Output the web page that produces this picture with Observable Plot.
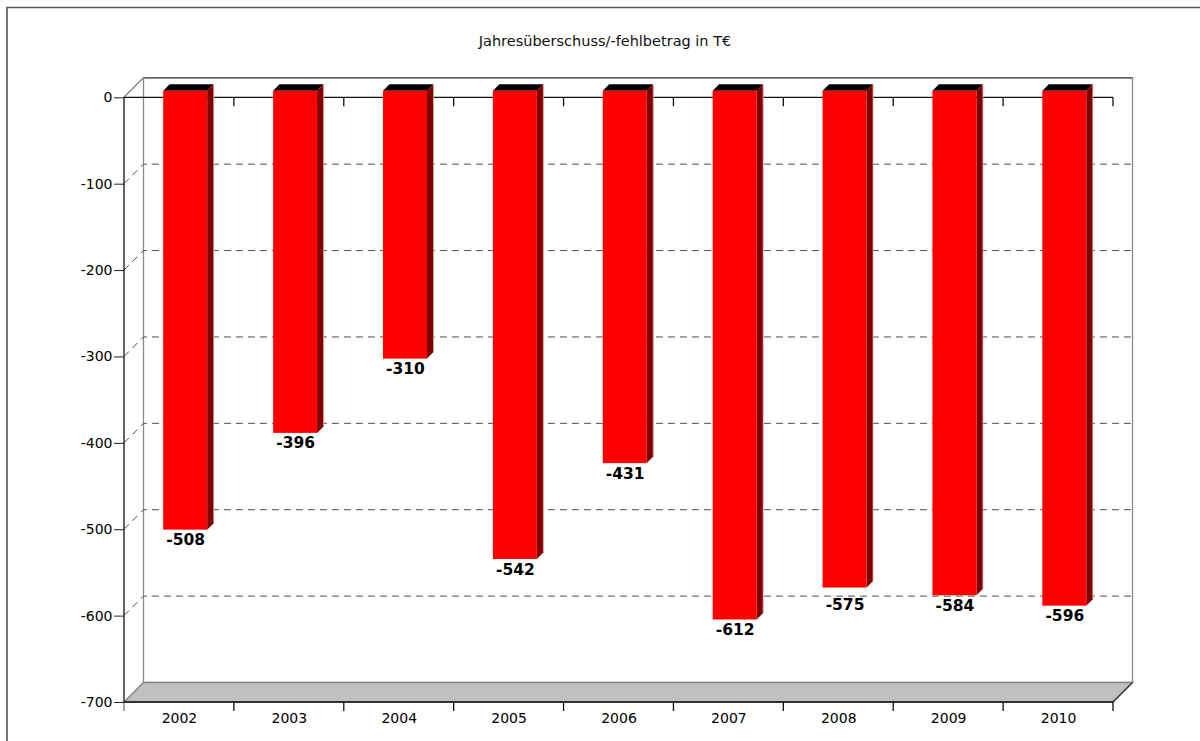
<!DOCTYPE html>
<html><head><meta charset="utf-8">
<script src="https://cdn.jsdelivr.net/npm/d3@7"></script>
<script src="https://cdn.jsdelivr.net/npm/@observablehq/plot@0.6"></script>
<style>
html,body{margin:0;padding:0;background:#fff;overflow:hidden}
#chart{position:relative;width:1200px;height:741px}
</style></head><body><div id="chart"></div>
<script>
// ---- data ----
const title = "Jahresüberschuss/-fehlbetrag in T€";
const years = ["2002","2003","2004","2005","2006","2007","2008","2009","2010"];
const values = [-508, -396, -310, -542, -431, -612, -575, -584, -596];
const yTicks = [0, -100, -200, -300, -400, -500, -600, -700];
const gridValues = [-100, -200, -300, -400, -500, -600];
const yDomain = [-700, 0];

// ---- layout / 3D styling constants ----
const W = 1200, H = 741;
const M = {left: 124, right: 87, top: 97.3, bottom: 39};
const DEPTH = 19.5;          // wall depth (px, 45°)
const D0 = 6.5, D1 = 13;     // bar depth start / end
const INSET = 32.7, BARW = 44;
const LABEL_GAP = 4, LABEL_H = 12;
const bandW = (W - M.left - M.right) / years.length;
const pxPerUnit = (H - M.bottom - M.top) / (yDomain[1] - yDomain[0]);
const labelDx = INSET + D0 + BARW / 2 - bandW / 2;

// label placement: just below the bar, pushed below a back-wall gridline it would cross
function labelValue(v) {
  let top = -(v) * pxPerUnit - D0 + LABEL_GAP;          // px below y(0)
  for (const g of gridValues) {
    const gy = -(g) * pxPerUnit - DEPTH;
    if (gy > top && gy < top + LABEL_H) top = gy + 2;
  }
  return -(top + D0 - LABEL_GAP) / pxPerUnit;
}
const data = years.map((year, i) => ({year, value: values[i], labelY: labelValue(values[i])}));

function bw(x) { return x.bandwidth ? x.bandwidth() : bandW; }

function backdrop(index, scales, ch, dim) {
  const x = scales.x, y = scales.y;
  const x0 = dim.marginLeft, x1 = dim.width - dim.marginRight;
  const yTop = y(0), yBot = y(yDomain[0]);
  const g = d3.create("svg:g");
  // outer frame
  g.append("path").attr("d", `M7,${dim.height + 5}V7.5H${dim.width + 5}`)
    .attr("fill", "none").attr("stroke", "#555").attr("stroke-width", 1.6);
  // back wall
  g.append("rect").attr("x", x0 + DEPTH).attr("y", yTop - DEPTH)
    .attr("width", x1 - x0).attr("height", yBot - yTop)
    .attr("fill", "#fff").attr("stroke", "#8a8a8a").attr("stroke-width", 1.3);
  g.append("path").attr("d", `M${x0 + DEPTH},${yTop - DEPTH}H${x1 + DEPTH}`)
    .attr("stroke", "#555").attr("stroke-width", 1.3);
  // gridlines (left wall diagonal + back wall)
  for (const v of gridValues) {
    const yy = y(v);
    g.append("path").attr("d", `M${x0},${yy}L${x0 + DEPTH},${yy - DEPTH}H${x1 + DEPTH}`)
      .attr("fill", "none").attr("stroke", "#505050").attr("stroke-dasharray", "7,5");
  }
  // floor
  g.append("path").attr("d", `M${x0},${yBot}L${x0 + DEPTH},${yBot - DEPTH}H${x1 + DEPTH}L${x1},${yBot}Z`)
    .attr("fill", "#c0c0c0").attr("stroke", "#808080").attr("stroke-width", 1.3);
  g.append("path").attr("d", `M${x1},${yBot}L${x1 + DEPTH},${yBot - DEPTH}`)
    .attr("stroke", "#333").attr("stroke-width", 1.2);
  // left wall top diagonal
  g.append("path").attr("d", `M${x0},${yTop}L${x0 + DEPTH},${yTop - DEPTH}`)
    .attr("stroke", "#808080").attr("stroke-width", 1.3);
  // front vertical axis
  g.append("path").attr("d", `M${x0},${yTop}V${yBot}`)
    .attr("stroke", "#303030").attr("stroke-width", 1.5);
  // boundaries
  const bounds = years.map(yr => x(yr)).concat([x(years[years.length - 1]) + bw(x)]);
  let dz = `M${x0},${yTop}H${x1}`;
  let db = `M${x0},${yBot}H${x1}`;
  bounds.forEach((bx, i) => {
    if (i > 0) dz += `M${bx},${yTop}V${yTop + 9}`;
    if (i > 0) db += `M${bx},${yBot}V${yBot + 9}`;
  });
  g.append("path").attr("d", dz).attr("fill", "none").attr("stroke", "#111").attr("stroke-width", 1.3);
  g.append("path").attr("d", db).attr("fill", "none").attr("stroke", "#111").attr("stroke-width", 1.3);
  g.append("path").attr("d", `M${x0},${yBot}V${yBot + 9}`).attr("stroke", "#777").attr("stroke-width", 1.3);
  return g.node();
}

function bars3d(index, scales, ch, dim) {
  const x = scales.x, y = scales.y;
  const g = d3.create("svg:g");
  const dd = D1 - D0;
  for (const d of data) {
    const bx = x(d.year) + INSET + D0;
    const ty = y(0) - D0, by = y(d.value) - D0;
    g.append("path").attr("d", `M${bx},${ty}L${bx + dd},${ty - dd}H${bx + BARW + dd}L${bx + BARW},${ty}Z`)
      .attr("fill", "#000");
    g.append("path").attr("d", `M${bx + BARW},${ty}L${bx + BARW + dd},${ty - dd}V${by - dd}L${bx + BARW},${by}Z`)
      .attr("fill", "#800000");
    g.append("path").attr("d", `M${bx + BARW + dd},${ty - dd}V${by - dd}`)
      .attr("stroke", "#e8a8a8").attr("stroke-width", 0.8);
    g.append("rect").attr("x", bx).attr("y", ty).attr("width", BARW).attr("height", by - ty)
      .attr("fill", "#ff0000");
  }
  return g.node();
}

const chart = Plot.plot({
  width: W, height: H,
  marginLeft: M.left, marginRight: M.right, marginTop: M.top, marginBottom: M.bottom,
  style: {fontFamily: "'DejaVu Sans', Verdana, sans-serif", fontSize: "14px", color: "#000", background: "#fff", overflow: "visible"},
  x: {type: "band", domain: years, padding: 0, round: false, align: 0},
  y: {type: "linear", domain: yDomain},
  marks: [
    backdrop,
    Plot.axisY(yTicks, {tickSize: 10, tickPadding: 2, tickFormat: d => String(d), label: null, stroke: "#222"}),
    Plot.axisX({tickSize: 0, tickPadding: 11, label: null}),
    bars3d,
    Plot.text(data, {x: "year", y: "labelY", text: d => String(d.value), dx: labelDx, dy: -D0 + LABEL_GAP,
      lineAnchor: "top", fontWeight: "bold", fontSize: 15.5, fill: "#000"}),
    Plot.text([title], {frameAnchor: "top", text: d => d, dx: -14, dy: -62.5, fontSize: 14.5, fill: "#111"})
  ]
});
document.getElementById("chart").appendChild(chart);
</script>
</body></html>
